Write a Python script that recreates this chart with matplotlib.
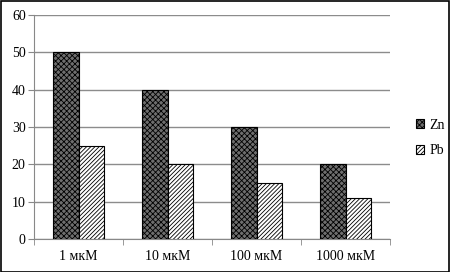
import matplotlib
matplotlib.use("Agg")
import matplotlib.pyplot as plt
import numpy as np
from matplotlib.patches import Rectangle

categories = ["1 мкМ", "10 мкМ", "100 мкМ", "1000 мкМ"]
zn = [50, 40, 30, 20]
pb = [25, 20, 15, 11]
yticks = [0, 10, 20, 30, 40, 50, 60]

plt.rcParams['font.family'] = ['Liberation Serif', 'DejaVu Serif']
plt.rcParams['hatch.linewidth'] = 0.6
plt.rcParams['hatch.color'] = '#111111'

fig = plt.figure(figsize=(4.5, 2.72), dpi=100)
ax = fig.add_axes([34/450, 1-239/272, (390-34)/450, (239-15)/272])

x = np.arange(len(categories))
w = 0.287
b1 = ax.bar(x - w/2, zn, w, facecolor='#6e6e6e', edgecolor='black', hatch='xxxxxx', linewidth=0.8, zorder=3, label='Zn')
b2 = ax.bar(x + w/2, pb, w, facecolor='white', edgecolor='black', hatch='////////', linewidth=0.8, zorder=3, label='Pb')

ax.set_xlim(-0.5, len(categories) - 0.5)
ax.set_ylim(0, 60)
ax.set_yticks(yticks)
ax.set_xticks(x)
ax.set_xticklabels(categories, fontsize=10)
ax.tick_params(axis='y', labelsize=10, length=4, color='#888888', direction='out', pad=2)
ax.tick_params(axis='x', length=0, pad=8)
ax.set_xticks(np.arange(-0.5, len(categories) + 0.5, 1), minor=True)
ax.tick_params(axis='x', which='minor', length=4, color='#888888', direction='out')
ax.grid(axis='y', color='#8c8c8c', linewidth=1.0, zorder=0)
for s in ['top', 'right']:
    ax.spines[s].set_visible(False)
ax.spines['left'].set_color('#888888')
ax.spines['bottom'].set_color('#888888')

leg = fig.legend(handles=[b1, b2], labels=['Zn', 'Pb'], loc='center left',
                 bbox_to_anchor=(403/450, 1-138/272), frameon=False, fontsize=10,
                 handlelength=0.6, handleheight=0.6, labelspacing=0.9, handletextpad=0.4)

fig.patches.append(Rectangle((0.5/450, 0.5/272), 448.5/450, 270.5/272, transform=fig.transFigure,
                             fill=False, edgecolor='black', linewidth=1.2))
fig.savefig("out.png", dpi=100)
